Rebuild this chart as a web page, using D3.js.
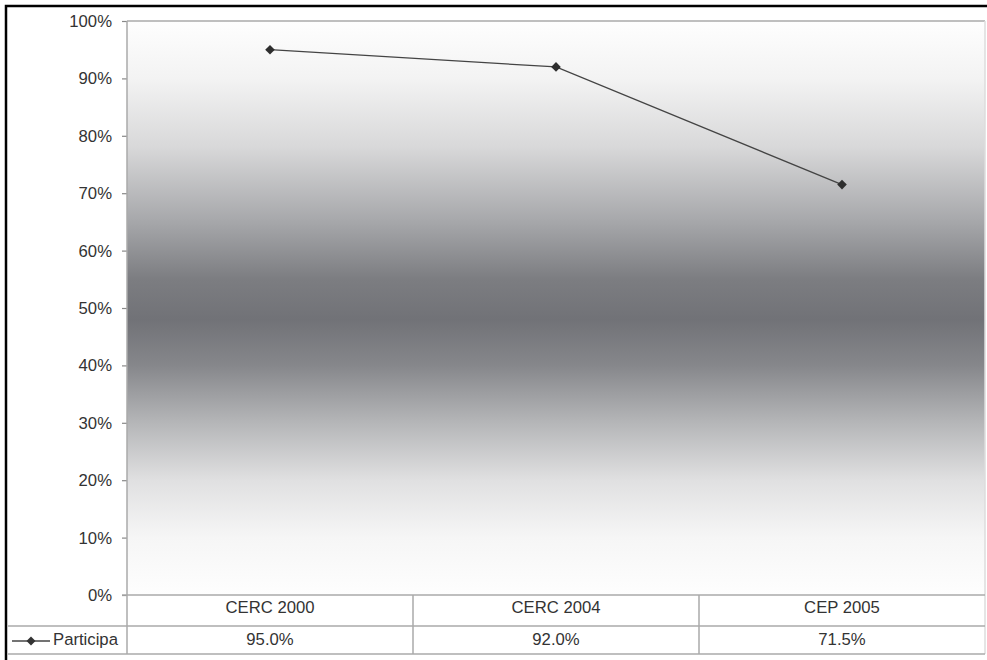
<!DOCTYPE html>
<html>
<head>
<meta charset="utf-8">
<script src="https://cdn.jsdelivr.net/npm/d3@7"></script>
<style>
html,body{margin:0;padding:0;background:#fff;}
svg{display:block;}
text{font-family:"Liberation Sans",Arial,sans-serif;fill:#333;}
</style>
</head>
<body>
<svg id="chart" width="987" height="660"></svg>
<script>
const categories = ["CERC 2000", "CERC 2004", "CEP 2005"];
const values = [0.95, 0.92, 0.715];
const valueLabels = ["95.0%", "92.0%", "71.5%"];
const seriesName = "Participa";
const yTicks = [0, 0.1, 0.2, 0.3, 0.4, 0.5, 0.6, 0.7, 0.8, 0.9, 1.0];

const svg = d3.select("#chart");
const W = 987, H = 660;
const plot = {left: 127, right: 985, top: 21, bottom: 595};
const row1 = 626, row2 = 654;
const FS = "16.7px";

// gradient background
const defs = svg.append("defs");
const grad = defs.append("linearGradient").attr("id", "bg").attr("x1", 0).attr("y1", 0).attr("x2", 0).attr("y2", 1);
[[0, "#fefefe"], [0.1, "#f3f3f3"], [0.22, "#d8d8d9"], [0.35, "#a6a7aa"], [0.45, "#7c7d81"], [0.52, "#717277"],
 [0.6, "#86878b"], [0.7, "#b5b6b8"], [0.8, "#e0e0e1"], [0.9, "#f6f6f6"], [1, "#fefefe"]]
  .forEach(([o, c]) => grad.append("stop").attr("offset", o).attr("stop-color", c));

svg.append("rect").attr("x", plot.left).attr("y", plot.top)
  .attr("width", plot.right - plot.left).attr("height", plot.bottom - plot.top)
  .attr("fill", "url(#bg)");

const x = d3.scaleBand().domain(categories).range([plot.left, plot.right]).padding(0);
const y = d3.scaleLinear().domain([0, 1]).range([plot.bottom, plot.top]);

// plot border (top, right)
svg.append("line").attr("x1", plot.left).attr("x2", plot.right).attr("y1", plot.top).attr("y2", plot.top)
  .attr("stroke", "#aaa").attr("stroke-width", 1.5);
svg.append("line").attr("x1", plot.right).attr("x2", plot.right).attr("y1", plot.top).attr("y2", row2)
  .attr("stroke", "#ddd").attr("stroke-width", 1.5);

// y axis
const yAxis = d3.axisLeft(y).tickValues(yTicks).tickFormat(d3.format(".0%")).tickSize(5).tickPadding(10);
const ga = svg.append("g").attr("transform", `translate(${plot.left},0)`).call(yAxis);
ga.attr("font-family", null).attr("font-size", null);
ga.select(".domain").remove();
ga.selectAll(".tick line").attr("stroke", "#888").attr("stroke-width", 1.2);
ga.selectAll(".tick text").style("font-size", FS).attr("fill", "#333").attr("dy", null).attr("y", 5.5);

// table lines
const gridCol = "#aaa";
svg.append("line").attr("x1", plot.left).attr("x2", plot.left).attr("y1", plot.top).attr("y2", row2)
  .attr("stroke", gridCol).attr("stroke-width", 1.5);
svg.append("line").attr("x1", plot.left - 5).attr("x2", plot.right).attr("y1", plot.bottom).attr("y2", plot.bottom)
  .attr("stroke", gridCol).attr("stroke-width", 1.5);
svg.append("line").attr("x1", 8).attr("x2", plot.right).attr("y1", row1).attr("y2", row1)
  .attr("stroke", gridCol).attr("stroke-width", 1.5);
svg.append("line").attr("x1", 8).attr("x2", plot.right).attr("y1", row2).attr("y2", row2)
  .attr("stroke", gridCol).attr("stroke-width", 1.5);
categories.slice(1).forEach(c => {
  svg.append("line").attr("x1", x(c)).attr("x2", x(c)).attr("y1", plot.bottom).attr("y2", row2)
    .attr("stroke", gridCol).attr("stroke-width", 1.5);
});

// category labels
svg.selectAll(".cat").data(categories).enter().append("text")
  .attr("x", d => x(d) + x.bandwidth() / 2).attr("y", plot.bottom + 18)
  .attr("text-anchor", "middle").style("font-size", FS).text(d => d);

// value labels
svg.selectAll(".val").data(valueLabels).enter().append("text")
  .attr("x", (d, i) => x(categories[i]) + x.bandwidth() / 2).attr("y", row1 + 19)
  .attr("text-anchor", "middle").style("font-size", FS).text(d => d);

// diamond marker
const diamond = r => `M0,${-r}L${r},0L0,${r}L${-r},0Z`;

// legend key in table
const ly = (row1 + row2) / 2 + 1;
svg.append("line").attr("x1", 12).attr("x2", 50).attr("y1", ly).attr("y2", ly)
  .attr("stroke", "#444").attr("stroke-width", 1.3);
svg.append("path").attr("d", diamond(4.5)).attr("transform", `translate(31,${ly})`).attr("fill", "#333");
svg.append("text").attr("x", 53).attr("y", row1 + 19).style("font-size", FS).text(seriesName);

// line series
const pts = categories.map((c, i) => [x(c) + x.bandwidth() / 2, y(values[i])]);
svg.append("path").attr("d", d3.line()(pts)).attr("fill", "none").attr("stroke", "#444").attr("stroke-width", 1.3);
svg.selectAll(".pt").data(pts).enter().append("path")
  .attr("d", diamond(4.8))
  .attr("transform", d => `translate(${d[0]},${d[1]})`).attr("fill", "#2e2e2e");

// outer black frame
svg.append("rect").attr("x", 6).attr("y", 6).attr("width", W + 10).attr("height", H + 10)
  .attr("fill", "none").attr("stroke", "#000").attr("stroke-width", 2.5);
</script>
</body>
</html>
